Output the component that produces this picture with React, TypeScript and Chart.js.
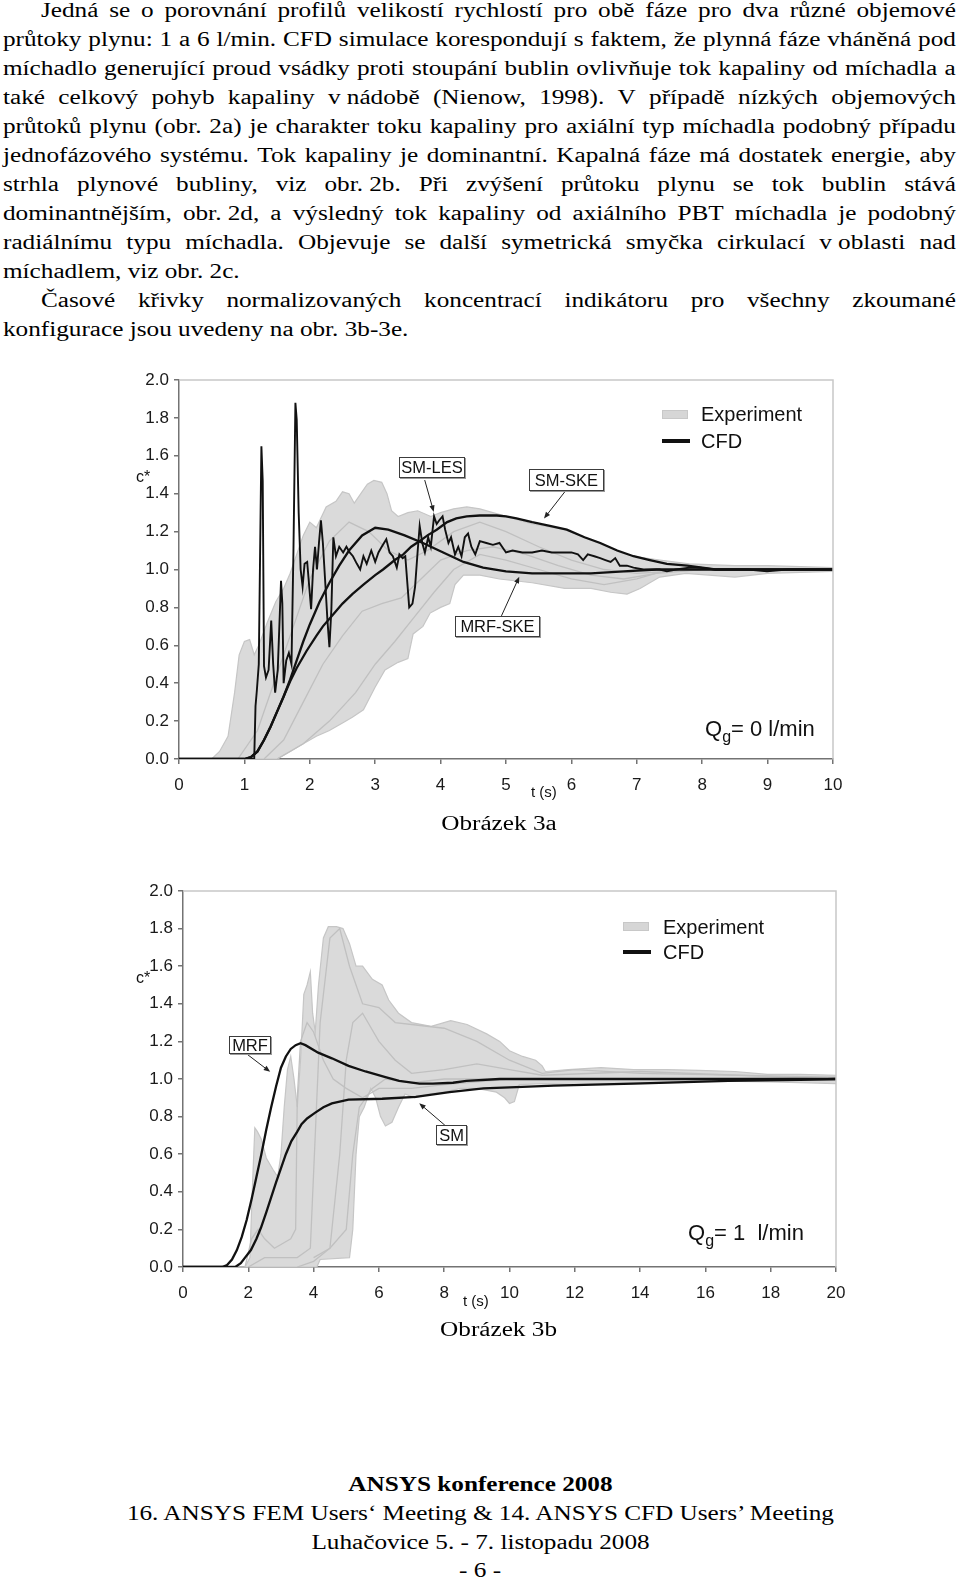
import React, { useEffect, useRef } from "react";
import { Chart, registerables } from "chart.js";

Chart.register(...registerables);

// ================= Figure 3a  (Qg = 0 l/min, t = 0..10 s) =================
const fig3aExpUpperT = [0, 0.5, 0.62, 0.75, 0.85, 0.92, 1.0, 1.08, 1.15, 1.22, 1.35, 1.48, 1.6, 1.7, 1.8, 1.9, 2.0, 2.1, 2.25, 2.4, 2.5, 2.6, 2.68, 2.78, 2.88, 2.98, 3.1, 3.18, 3.25, 3.35, 3.5, 3.65, 3.85, 4.0, 4.2, 4.4, 4.6, 4.8, 5.0, 5.4, 5.9, 6.2, 6.45, 6.75, 6.95, 7.35, 7.8, 8.5, 9.0, 9.5, 10];
const fig3aExpUpperV = [0, 0, 0.04, 0.12, 0.35, 0.55, 0.62, 0.63, 0.55, 0.6, 0.72, 0.83, 0.9, 0.98, 1.08, 1.18, 1.25, 1.22, 1.33, 1.36, 1.41, 1.4, 1.35, 1.4, 1.45, 1.47, 1.46, 1.4, 1.31, 1.28, 1.3, 1.31, 1.28, 1.3, 1.32, 1.33, 1.32, 1.3, 1.28, 1.24, 1.21, 1.17, 1.14, 1.09, 1.07, 1.05, 1.03, 1.02, 1.02, 1.015, 1.01];
const fig3aExpLowerT = [0, 1.5, 1.7, 1.9, 2.1, 2.3, 2.5, 2.65, 2.82, 3.0, 3.15, 3.35, 3.5, 3.58, 3.73, 3.84, 4.0, 4.14, 4.22, 4.35, 4.6, 4.9, 5.4, 5.9, 6.3, 6.6, 6.85, 7.05, 7.35, 7.75, 8.5, 9.0, 10];
const fig3aExpLowerV = [0, 0, 0.04, 0.08, 0.12, 0.15, 0.19, 0.22, 0.26, 0.38, 0.47, 0.51, 0.53, 0.66, 0.7, 0.77, 0.8, 0.82, 0.92, 0.97, 0.97, 0.95, 0.93, 0.9, 0.9, 0.88, 0.87, 0.9, 0.96, 0.98, 0.96, 0.98, 0.99];
const fig3aExp1T = [0.9, 1.2, 1.5, 1.8, 2.0, 2.3, 2.6, 2.9, 3.2, 3.5, 3.8, 4.2, 4.6, 5, 5.5, 6, 6.5, 7, 8, 10];
const fig3aExp1V = [0, 0.15, 0.45, 0.75, 0.95, 1.15, 1.25, 1.2, 1.1, 1.05, 1.1, 1.2, 1.25, 1.2, 1.12, 1.05, 1.0, 0.98, 1.0, 1.0];
const fig3aExp2T = [1.3, 1.6, 1.9, 2.2, 2.5, 2.8, 3.1, 3.4, 3.7, 4.0, 4.4, 4.8, 5.3, 5.8, 6.3, 6.8, 7.3, 8, 10];
const fig3aExp2V = [0, 0.1, 0.3, 0.5, 0.65, 0.78, 0.82, 0.85, 0.95, 1.05, 1.1, 1.12, 1.08, 1.02, 0.97, 0.95, 0.98, 1.0, 1.0];
const fig3aExp3T = [1.5, 1.9, 2.3, 2.7, 3.0, 3.3, 3.6, 3.9, 4.2, 4.6, 5.0, 5.5, 6.0, 6.5, 7.0, 7.5, 10];
const fig3aExp3V = [0, 0.08, 0.2, 0.35, 0.5, 0.62, 0.75, 0.88, 1.0, 1.08, 1.05, 1.0, 0.95, 0.92, 0.95, 1.0, 1.0];
const fig3aSmLesT = [0, 1.15, 1.17, 1.19, 1.22, 1.25, 1.26, 1.28, 1.3, 1.33, 1.37, 1.41, 1.44, 1.47, 1.51, 1.56, 1.58, 1.6, 1.64, 1.68, 1.72, 1.75, 1.78, 1.8, 1.83, 1.86, 1.89, 1.92, 1.96, 2.02, 2.05, 2.08, 2.11, 2.14, 2.17, 2.2, 2.24, 2.27, 2.3, 2.33, 2.36, 2.4, 2.45, 2.51, 2.56, 2.61, 2.66, 2.72, 2.77, 2.82, 2.87, 2.94, 3.0, 3.05, 3.1, 3.17, 3.22, 3.27, 3.33, 3.37, 3.42, 3.46, 3.52, 3.57, 3.61, 3.65, 3.68, 3.72, 3.76, 3.81, 3.85, 3.9, 3.94, 3.98, 4.03, 4.07, 4.12, 4.16, 4.22, 4.27, 4.32, 4.37, 4.42, 4.47, 4.53, 4.6, 4.7, 4.8, 4.9, 5.0, 5.1, 5.25, 5.4, 5.55, 5.7, 5.85, 6.0, 6.1, 6.18, 6.25, 6.35, 6.44, 6.52, 6.6, 6.67, 6.74, 6.85, 6.95, 7.1, 7.2, 7.35, 7.46, 7.6, 7.8, 7.97, 8.2, 8.48, 8.7, 8.99, 9.3, 9.6, 10];
const fig3aSmLesV = [0, 0, 0.28, 0.36, 0.5, 1.37, 1.65, 1.47, 0.49, 0.43, 0.47, 0.73, 0.5, 0.35, 0.47, 0.94, 0.82, 0.4, 0.52, 0.56, 0.5, 1.1, 1.88, 1.79, 1.3, 1.0, 0.91, 1.03, 1.04, 0.79, 1.0, 1.12, 1.0, 1.14, 1.26, 1.14, 0.91, 0.73, 0.59, 0.79, 1.17, 1.07, 1.12, 1.09, 1.12, 1.09, 1.07, 1.03, 1.0, 1.07, 1.03, 1.1, 1.04, 1.09, 1.12, 1.16, 1.09, 1.07, 1.01, 1.08, 1.06, 1.07, 0.8, 0.82, 0.91, 1.1, 1.23, 1.14, 1.09, 1.17, 1.12, 1.28, 1.24, 1.26, 1.28, 1.21, 1.14, 1.17, 1.08, 1.12, 1.07, 1.17, 1.19, 1.12, 1.08, 1.15, 1.14, 1.13, 1.14, 1.09, 1.1, 1.09, 1.09, 1.1, 1.09, 1.09, 1.09, 1.08, 1.05, 1.08, 1.07, 1.06, 1.05, 1.04, 1.06, 1.02, 1.02, 1.01, 1.0, 1.0, 1.0, 0.99, 1.0, 1.01, 1.01, 1.0, 1.0, 1.0, 0.99, 1.0, 1.0, 1.0];
const fig3aSmSkeT = [0, 1.0, 1.1, 1.2, 1.3, 1.4, 1.5, 1.6, 1.7, 1.8, 1.95, 2.1, 2.2, 2.35, 2.5, 2.65, 2.82, 3.0, 3.12, 3.3, 3.43, 3.55, 3.68, 3.8, 3.94, 4.1, 4.24, 4.4, 4.6, 4.75, 4.86, 5.0, 5.16, 5.4, 5.67, 5.93, 6.2, 6.44, 6.7, 6.95, 7.2, 7.46, 7.77, 8.2, 8.6, 9, 10];
const fig3aSmSkeV = [0, 0, 0.01, 0.04, 0.1, 0.17, 0.25, 0.33, 0.41, 0.48, 0.57, 0.65, 0.7, 0.76, 0.82, 0.87, 0.92, 0.97, 1.0, 1.05, 1.08, 1.12, 1.15, 1.18, 1.21, 1.25, 1.27, 1.28, 1.285, 1.285, 1.285, 1.28, 1.27, 1.25, 1.23, 1.21, 1.17, 1.14, 1.1, 1.07, 1.05, 1.03, 1.02, 1.0, 1.0, 1.0, 1.0];
const fig3aMrfSkeT = [0, 1.0, 1.1, 1.2, 1.3, 1.4, 1.5, 1.6, 1.7, 1.8, 1.9, 2.0, 2.15, 2.3, 2.45, 2.6, 2.8, 3.0, 3.2, 3.45, 3.73, 4.04, 4.35, 4.65, 5.0, 5.4, 5.8, 6.3, 6.8, 7.3, 8, 9, 10];
const fig3aMrfSkeV = [0, 0, 0.01, 0.04, 0.1, 0.17, 0.25, 0.33, 0.42, 0.52, 0.62, 0.71, 0.83, 0.93, 1.02, 1.1, 1.18, 1.22, 1.21, 1.18, 1.14, 1.09, 1.04, 1.01, 0.99, 0.98, 0.98, 0.98, 0.99, 1.0, 1.0, 1.0, 1.0];
// annotation arrows (data units: [t, c*])
const fig3aArrowFrom = [[3.757, 1.472], [5.897, 1.409], [4.93, 0.755]];
const fig3aArrowTo = [[3.895, 1.304], [5.581, 1.269], [5.203, 0.962]];

// ================= Figure 3b  (Qg = 1 l/min, t = 0..20 s) =================
const fig3bExpUpperT = [0, 1.9, 2.05, 2.12, 2.2, 2.28, 2.4, 2.55, 2.75, 2.9, 3.0, 3.1, 3.2, 3.3, 3.4, 3.5, 3.6, 3.7, 3.8, 3.9, 3.97, 4.05, 4.15, 4.3, 4.45, 4.7, 4.9, 5.1, 5.3, 5.5, 5.8, 6.1, 6.3, 6.6, 7.0, 7.6, 8.2, 8.7, 9.3, 9.7, 10.0, 10.4, 10.8, 11.0, 11.1, 11.8, 12.8, 13.8, 14.8, 15.8, 16.9, 17.9, 18.9, 20];
const fig3bExpUpperV = [0, 0, 0.05, 0.4, 0.74, 0.72, 0.68, 0.58, 0.52, 0.48, 0.6, 0.85, 1.05, 1.12, 1.0, 0.85, 1.1, 1.45, 1.5, 1.57, 1.35, 1.25, 1.5, 1.75, 1.81, 1.81, 1.8, 1.72, 1.6, 1.6, 1.53, 1.5, 1.42, 1.35, 1.3, 1.28, 1.31, 1.29, 1.24, 1.2, 1.15, 1.12, 1.1, 1.07, 1.04, 1.05, 1.06, 1.05, 1.05, 1.046, 1.04, 1.025, 1.025, 1.02];
const fig3bExpLowerT = [0, 4.1, 4.2, 5.1, 5.2, 5.3, 5.4, 5.55, 5.75, 5.9, 6.05, 6.2, 6.4, 6.6, 6.8, 7.1, 7.5, 8, 8.5, 9, 9.6, 9.85, 10.0, 10.15, 10.3, 11, 12, 14, 16, 18, 20];
const fig3bExpLowerV = [0, 0, 0.04, 0.05, 0.2, 0.6, 0.8, 0.85, 0.95, 0.9, 0.8, 0.75, 0.77, 0.85, 0.92, 0.9, 0.92, 0.93, 0.95, 0.95, 0.93, 0.9, 0.87, 0.88, 0.97, 0.975, 0.97, 0.98, 0.99, 0.985, 0.975];
const fig3bExp1T = [1.9, 2.1, 2.3, 2.5, 2.8, 3.0, 3.3, 3.45, 3.5, 3.6, 3.8, 4.0, 4.3, 4.6, 5.0, 5.5, 6, 7, 8, 10, 20];
const fig3bExp1V = [0, 0.15, 0.2, 0.15, 0.1, 0.12, 0.15, 0.2, 0.9, 1.2, 1.3, 1.25, 1.1, 1.0, 0.95, 0.9, 0.95, 0.95, 0.97, 1.0, 1.0];
const fig3bExp2T = [2.0, 2.5, 3.0, 3.5, 3.9, 4.0, 4.2, 4.5, 4.8, 5.1, 5.5, 6.0, 6.5, 7.0, 8.0, 9, 10, 11, 12, 14, 20];
const fig3bExp2V = [0, 0.05, 0.05, 0.05, 0.1, 0.5, 1.3, 1.75, 1.8, 1.6, 1.4, 1.38, 1.3, 1.29, 1.27, 1.2, 1.1, 1.03, 1.05, 1.03, 1.01];
const fig3bExp3T = [3.5, 4.0, 4.5, 4.8, 5.0, 5.2, 5.5, 6.0, 6.5, 7, 8, 9, 10, 11, 14, 20];
const fig3bExp3V = [0, 0.03, 0.1, 0.6, 1.1, 1.3, 1.35, 1.2, 1.1, 1.03, 1.05, 1.08, 1.05, 1.02, 1.04, 1.0];
const fig3bExp4T = [4.0, 4.5, 5.0, 5.2, 5.4, 5.8, 6.2, 7, 8, 20];
const fig3bExp4V = [0.05, 0.1, 0.2, 0.6, 0.85, 0.95, 1.0, 0.98, 1.0, 1.0];
const fig3bMrfT = [0, 1.2, 1.35, 1.5, 1.65, 1.8, 1.95, 2.1, 2.25, 2.4, 2.55, 2.7, 2.85, 3.0, 3.15, 3.3, 3.45, 3.6, 3.75, 4.14, 4.56, 5.07, 5.59, 6.2, 6.62, 7.24, 7.65, 8.27, 8.68, 9.7, 11.4, 14, 17, 20];
const fig3bMrfV = [0, 0, 0.01, 0.04, 0.09, 0.16, 0.25, 0.36, 0.48, 0.6, 0.73, 0.85, 0.96, 1.06, 1.12, 1.16, 1.18, 1.19, 1.18, 1.14, 1.11, 1.07, 1.04, 1.01, 0.99, 0.975, 0.975, 0.98, 0.99, 1.0, 1.0, 1.0, 1.0, 1.0];
const fig3bSmT = [0, 1.6, 1.77, 1.9, 2.08, 2.25, 2.39, 2.55, 2.7, 2.85, 3.01, 3.15, 3.32, 3.5, 3.63, 3.8, 4.04, 4.3, 4.56, 5.07, 6.1, 7.13, 8.16, 9.2, 10.2, 11.36, 13.8, 16.7, 18.9, 20];
const fig3bSmV = [0, 0, 0.02, 0.05, 0.09, 0.15, 0.21, 0.29, 0.37, 0.45, 0.53, 0.6, 0.67, 0.72, 0.76, 0.79, 0.82, 0.85, 0.87, 0.89, 0.895, 0.905, 0.93, 0.95, 0.957, 0.965, 0.975, 0.99, 0.995, 1.0];
const fig3bArrowFrom = [[1.976, 1.13], [8.021, 0.754]];
const fig3bArrowTo = [[2.67, 1.038], [7.235, 0.871]];

// ================= page text =================
const bodyLines = [
  "Jedná se o porovnání profilů velikostí rychlostí pro obě fáze pro dva různé objemové",
  "průtoky plynu: 1 a 6 l/min. CFD simulace korespondují s faktem, že plynná fáze vháněná pod",
  "míchadlo generující proud vsádky proti stoupání bublin ovlivňuje tok kapaliny od míchadla a",
  "také celkový pohyb kapaliny v\u00a0nádobě (Nienow, 1998). V případě nízkých objemových",
  "průtoků plynu (obr. 2a) je charakter toku kapaliny pro axiální typ míchadla podobný případu",
  "jednofázového systému. Tok kapaliny je dominantní. Kapalná fáze má dostatek energie, aby",
  "strhla plynové bubliny, viz obr.\u00a02b. Při zvýšení průtoku plynu se tok bublin stává",
  "dominantnějším, obr.\u00a02d, a výsledný tok kapaliny od axiálního PBT míchadla je podobný",
  "radiálnímu typu míchadla. Objevuje se další symetrická smyčka cirkulací v\u00a0oblasti nad",
  "míchadlem, viz obr. 2c.",
  "Časové křivky normalizovaných koncentrací indikátoru pro všechny zkoumané",
  "konfigurace jsou uvedeny na obr. 3b-3e.",
];
const bodyIndented = [true, false, false, false, false, false, false, false, false, false, true, false];
const bodyJustified = [true, true, true, true, true, true, true, true, true, false, true, false];
const footerLines = [
  "ANSYS konference 2008",
  "16. ANSYS FEM Users\u2018 Meeting & 14. ANSYS CFD Users\u2019 Meeting",
  "Luhačovice 5. - 7. listopadu 2008",
  "- 6 -",
];

// ================= styling =================
const SANS = "'Liberation Sans', Arial, Helvetica, sans-serif";
const SERIF = "'Liberation Serif', 'Times New Roman', serif";
const SX = 1.23; // horizontal stretch of the scanned page text
const FILL = "#dadada";
const EDGE = "#c6c6c6";
const INNER = "#c0c0c0";
const INK = "#111111";
const AXIS = "#737373";

type Pt = { x: number; y: number };
const pts = (t: number[], v: number[]): Pt[] => t.map((x, i) => ({ x, y: v[i] }));

function expDatasets(upT: number[], upV: number[], loT: number[], loV: number[], inner: number[][][]) {
  return [
    { data: pts(upT, upV), borderColor: EDGE, borderWidth: 1.2, backgroundColor: FILL, fill: "+1", order: 10 },
    { data: pts(loT, loV), borderColor: EDGE, borderWidth: 1.2, fill: false, order: 9 },
    ...inner.map(([t, v]) => ({ data: pts(t, v), borderColor: INNER, borderWidth: 1.3, fill: false, order: 5 })),
  ];
}

function cfd(t: number[], v: number[], w = 2.3) {
  return { data: pts(t, v), borderColor: INK, borderWidth: w, fill: false, order: 0 };
}

type PlotProps = {
  left: number;
  top: number;
  width: number;
  height: number;
  pad: { left: number; top: number; right: number; bottom: number };
  xMax: number;
  xStep: number;
  datasets: any[];
  arrowFrom: number[][];
  arrowTo: number[][];
};

function Plot(p: PlotProps) {
  const ref = useRef<HTMLCanvasElement | null>(null);
  useEffect(() => {
    if (!ref.current) return;
    const frame = {
      id: "frameArrows",
      afterDatasetsDraw(chart: any) {
        const { ctx, chartArea: a, scales } = chart;
        ctx.save();
        ctx.strokeStyle = "#c8c8c8";
        ctx.lineWidth = 1.5;
        ctx.beginPath();
        ctx.moveTo(a.left, a.top);
        ctx.lineTo(a.right, a.top);
        ctx.lineTo(a.right, a.bottom);
        ctx.stroke();
        ctx.strokeStyle = "#222";
        ctx.fillStyle = "#222";
        ctx.lineWidth = 1;
        p.arrowFrom.forEach((f, i) => {
          const to = p.arrowTo[i];
          const x1 = scales.x.getPixelForValue(f[0]);
          const y1 = scales.y.getPixelForValue(f[1]);
          const x2 = scales.x.getPixelForValue(to[0]);
          const y2 = scales.y.getPixelForValue(to[1]);
          const ang = Math.atan2(y2 - y1, x2 - x1);
          const hl = 7;
          ctx.beginPath();
          ctx.moveTo(x1, y1);
          ctx.lineTo(x2 - Math.cos(ang) * 4, y2 - Math.sin(ang) * 4);
          ctx.stroke();
          ctx.beginPath();
          ctx.moveTo(x2, y2);
          ctx.lineTo(x2 - hl * Math.cos(ang - 0.38), y2 - hl * Math.sin(ang - 0.38));
          ctx.lineTo(x2 - hl * Math.cos(ang + 0.38), y2 - hl * Math.sin(ang + 0.38));
          ctx.closePath();
          ctx.fill();
        });
        ctx.restore();
      },
    };
    const tickFont = { family: SANS, size: 17 };
    const chart = new Chart(ref.current, {
      type: "line",
      data: { datasets: p.datasets },
      options: {
        animation: false,
        responsive: false,
        devicePixelRatio: 1,
        layout: { padding: p.pad },
        elements: { point: { radius: 0 }, line: { tension: 0 } },
        plugins: { legend: { display: false }, tooltip: { enabled: false } },
        scales: {
          x: {
            type: "linear",
            min: 0,
            max: p.xMax,
            afterFit: (s: any) => {
              s.height = 40;
            },
            ticks: { stepSize: p.xStep, padding: 11, color: "#1a1a1a", font: tickFont, maxRotation: 0, autoSkip: false },
            grid: { drawOnChartArea: false, drawTicks: true, tickLength: 5, color: AXIS, lineWidth: 1.5 },
            border: { display: true, color: AXIS, width: 1.5 },
          },
          y: {
            type: "linear",
            min: 0,
            max: 2,
            afterFit: (s: any) => {
              s.width = 59;
            },
            ticks: {
              stepSize: 0.2,
              padding: 5,
              color: "#1a1a1a",
              font: tickFont,
              callback: (v: any) => Number(v).toFixed(1),
            },
            grid: { drawOnChartArea: false, drawTicks: true, tickLength: 5, color: AXIS, lineWidth: 1.5 },
            border: { display: true, color: AXIS, width: 1.5 },
          },
        },
      } as any,
      plugins: [frame],
    });
    return () => chart.destroy();
  }, []);
  return (
    <canvas
      ref={ref}
      width={p.width}
      height={p.height}
      style={{ position: "absolute", left: p.left, top: p.top, width: p.width, height: p.height }}
    />
  );
}

function Txt(props: { left: number; cy: number; size: number; children: any }) {
  const lh = Math.round(props.size * 1.2);
  return (
    <div
      style={{
        position: "absolute",
        left: props.left,
        top: props.cy - lh / 2,
        lineHeight: `${lh}px`,
        fontSize: props.size,
        fontFamily: SANS,
        whiteSpace: "pre",
        color: "#111",
      }}
    >
      {props.children}
    </div>
  );
}

function Box(props: { left: number; top: number; width: number; height: number; text: string }) {
  return (
    <div
      style={{
        position: "absolute",
        left: props.left,
        top: props.top,
        width: props.width,
        height: props.height,
        boxSizing: "border-box",
        border: "1px solid #3c3c3c",
        boxShadow: "1px 1px 0 #9a9a9a",
        background: "#fff",
        display: "flex",
        alignItems: "center",
        justifyContent: "center",
        fontFamily: SANS,
        fontSize: 16.5,
        color: "#111",
        whiteSpace: "pre",
      }}
    >
      {props.text}
    </div>
  );
}

function Legend(props: { left: number; cy1: number; cy2: number; textLeft: number }) {
  return (
    <>
      <div
        style={{
          position: "absolute",
          left: props.left,
          top: props.cy1 - 4.5,
          width: 26,
          height: 9,
          boxSizing: "border-box",
          background: "#d6d6d6",
          border: "1px solid #c8c8c8",
        }}
      />
      <div style={{ position: "absolute", left: props.left, top: props.cy2 - 2, width: 28, height: 4, background: INK }} />
      <Txt left={props.textLeft} cy={props.cy1} size={20}>
        Experiment
      </Txt>
      <Txt left={props.textLeft} cy={props.cy2} size={20}>
        CFD
      </Txt>
    </>
  );
}

function Qg(props: { left: number; cy: number; text: string }) {
  return (
    <Txt left={props.left} cy={props.cy} size={22}>
      Q<span style={{ fontSize: 16, position: "relative", top: 6 }}>g</span>
      {props.text}
    </Txt>
  );
}

function BodyLine(props: { text: string; top: number; left: number; justify: boolean }) {
  const right = 956;
  return (
    <div
      style={{
        position: "absolute",
        left: props.left,
        top: props.top,
        width: props.justify ? (right - props.left) / SX : undefined,
        transform: `scaleX(${SX})`,
        transformOrigin: "0 0",
        display: "flex",
        justifyContent: props.justify ? "space-between" : "flex-start",
        whiteSpace: "pre",
        fontFamily: SERIF,
        fontSize: 20.5,
        lineHeight: "29px",
        color: "#000",
      }}
    >
      {props.justify ? props.text.split(" ").map((w, i) => <span key={i}>{w}</span>) : <span>{props.text}</span>}
    </div>
  );
}

function Centered(props: { text: string; top: number; cx: number; bold?: boolean }) {
  return (
    <div
      style={{
        position: "absolute",
        left: props.cx - 480,
        width: 960,
        top: props.top,
        textAlign: "center",
        fontFamily: SERIF,
        fontSize: 20.5,
        lineHeight: "29px",
        fontWeight: props.bold ? "bold" : "normal",
        color: "#000",
        whiteSpace: "pre",
      }}
    >
      <span style={{ display: "inline-block", transform: `scaleX(${SX})` }}>{props.text}</span>
    </div>
  );
}

export default function App() {
  const dsA = [
    ...expDatasets(fig3aExpUpperT, fig3aExpUpperV, fig3aExpLowerT, fig3aExpLowerV, [
      [fig3aExp1T, fig3aExp1V],
      [fig3aExp2T, fig3aExp2V],
      [fig3aExp3T, fig3aExp3V],
    ]),
    cfd(fig3aMrfSkeT, fig3aMrfSkeV),
    cfd(fig3aSmSkeT, fig3aSmSkeV),
    cfd(fig3aSmLesT, fig3aSmLesV, 1.9),
  ];
  const dsB = [
    ...expDatasets(fig3bExpUpperT, fig3bExpUpperV, fig3bExpLowerT, fig3bExpLowerV, [
      [fig3bExp1T, fig3bExp1V],
      [fig3bExp2T, fig3bExp2V],
      [fig3bExp3T, fig3bExp3V],
      [fig3bExp4T, fig3bExp4V],
    ]),
    cfd(fig3bMrfT, fig3bMrfV),
    cfd(fig3bSmT, fig3bSmV),
  ];
  return (
    <div style={{ position: "relative", width: 960, height: 1581, overflow: "hidden", background: "#fff" }}>
      <style>{"html,body{margin:0;padding:0;background:#fff}"}</style>
      {bodyLines.map((t, i) => (
        <BodyLine key={i} text={t} top={-4.1 + 29 * i} left={bodyIndented[i] ? 41 : 3} justify={bodyJustified[i]} />
      ))}

      {/* Figure 3a */}
      <Plot
        left={120}
        top={360}
        width={740}
        height={450}
        pad={{ left: 0, top: 20, right: 27, bottom: 11 }}
        xMax={10}
        xStep={1}
        datasets={dsA}
        arrowFrom={fig3aArrowFrom}
        arrowTo={fig3aArrowTo}
      />
      <Txt left={136} cy={476} size={16}>c*</Txt>
      <Txt left={531} cy={792} size={15}>t (s)</Txt>
      <Legend left={662} cy1={414.3} cy2={440.7} textLeft={701} />
      <Box left={399} top={457} width={66} height={21} text="SM-LES" />
      <Box left={529} top={469} width={75} height={22} text="SM-SKE" />
      <Box left={455} top={616} width={85} height={21} text="MRF-SKE" />
      <Qg left={705} cy={729} text={"= 0 l/min"} />
      <Centered text="Obrázek 3a" top={808.6} cx={499} />

      {/* Figure 3b */}
      <Plot
        left={124}
        top={870}
        width={740}
        height={450}
        pad={{ left: 0, top: 21, right: 28, bottom: 13 }}
        xMax={20}
        xStep={2}
        datasets={dsB}
        arrowFrom={fig3bArrowFrom}
        arrowTo={fig3bArrowTo}
      />
      <Txt left={136} cy={977} size={16}>c*</Txt>
      <Txt left={463} cy={1301} size={15}>t (s)</Txt>
      <Legend left={623} cy1={926.7} cy2={951.7} textLeft={663} />
      <Box left={229} top={1036} width={42} height={18} text="MRF" />
      <Box left={436} top={1125} width={31} height={20} text="SM" />
      <Qg left={688} cy={1232.5} text={"= 1\u00a0\u00a0l/min"} />
      <Centered text="Obrázek 3b" top={1314.6} cx={499} />

      {/* Footer */}
      <Centered text={footerLines[0]} top={1469.6} cx={480} bold />
      <Centered text={footerLines[1]} top={1498.6} cx={480} />
      <Centered text={footerLines[2]} top={1527.6} cx={480} />
      <Centered text={footerLines[3]} top={1555.6} cx={480} />
    </div>
  );
}
